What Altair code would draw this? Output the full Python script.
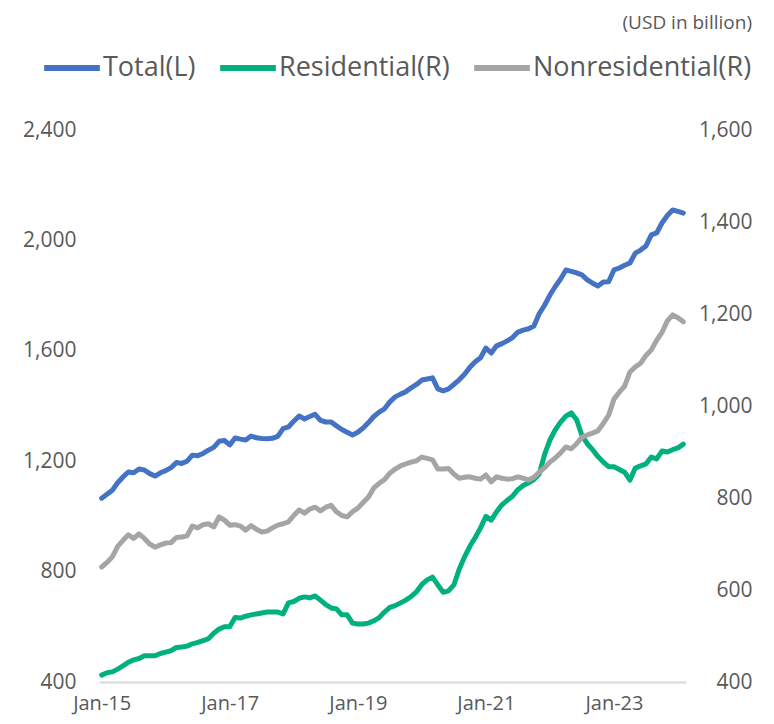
import altair as alt
import pandas as pd

FONT = "Open Sans"
TEXT_COLOR = "#595959"

# month index 0 = Jan-2015 ... 109 = Feb-2024
months = list(range(110))

total = [
    1066, 1080, 1095, 1122, 1143, 1161, 1158, 1172, 1168, 1155,
    1146, 1158, 1166, 1177, 1195, 1192, 1200, 1222, 1220, 1228,
    1240, 1250, 1272, 1275, 1259, 1284, 1280, 1277, 1291, 1285,
    1282, 1281, 1283, 1290, 1318, 1324, 1345, 1364, 1353, 1362,
    1370, 1348, 1342, 1342, 1328, 1315, 1305, 1295, 1305, 1320,
    1340, 1362, 1378, 1390, 1415, 1433, 1443, 1452, 1466, 1478,
    1494, 1498, 1502, 1462, 1455, 1462, 1478, 1495, 1515, 1540,
    1560, 1575, 1610, 1592, 1618, 1626, 1636, 1648, 1668, 1675,
    1680, 1690, 1735, 1765, 1802, 1833, 1860, 1893, 1888, 1882,
    1875, 1857, 1845, 1835, 1849, 1850, 1893, 1900, 1910, 1918,
    1954, 1965, 1980, 2020, 2027, 2063, 2090, 2110, 2105, 2099,
]

residential = [
    415, 420, 422, 428, 435, 443, 448, 451, 457, 457,
    457, 462, 465, 468, 475, 476, 478, 483, 486, 490,
    494, 506, 515, 520, 520, 540, 539, 543, 546, 548,
    550, 552, 552, 552, 548, 572, 575, 582, 585, 583,
    587, 578, 568, 561, 559, 546, 546, 528, 526, 526,
    528, 533, 540, 552, 562, 566, 572, 578, 586, 596,
    612, 622, 628, 611, 595, 598, 611, 645, 672, 695,
    714, 735, 760, 752, 770, 785, 795, 804, 818, 827,
    833, 840, 852, 895, 926, 948, 965, 978, 985, 970,
    936, 918, 905, 890, 878, 868, 868, 862, 856, 839,
    865, 870, 874, 889, 885, 902, 900, 905, 909, 917,
]

nonresidential = [
    650, 660, 672, 695, 708, 720, 712, 722, 712, 700,
    693, 698, 702, 703, 714, 715, 718, 739, 735, 742,
    744, 737, 759, 752, 741, 742, 739, 730, 740, 732,
    726, 728, 735, 741, 744, 748, 762, 774, 767, 776,
    780, 772, 780, 784, 770, 762, 759, 770, 778, 790,
    802, 822, 832, 840, 854, 863, 870, 874, 878, 881,
    889, 886, 883, 863, 863, 864, 852, 843, 845, 846,
    843, 841, 850, 835, 846, 843, 841, 842, 846, 843,
    839, 845, 856, 866, 878, 887, 898, 911, 907, 918,
    932, 937, 941, 946, 962, 980, 1015, 1030, 1043, 1074,
    1085, 1093, 1110, 1122, 1143, 1160, 1185, 1198, 1192, 1183,
]

series_names = ["Total(L)", "Residential(R)", "Nonresidential(R)"]
series_colors = ["#4472C4", "#00B07F", "#A5A5A5"]
x_tick_values = [0, 24, 48, 72, 96]
left_ticks = [400, 800, 1200, 1600, 2000, 2400]
right_ticks = [400, 600, 800, 1000, 1200, 1400, 1600]
unit_text = ["(USD in billion)"]

df_left = pd.DataFrame({"m": months, "value": total, "series": series_names[0]})
df_right = pd.concat([
    pd.DataFrame({"m": months, "value": residential, "series": series_names[1]}),
    pd.DataFrame({"m": months, "value": nonresidential, "series": series_names[2]}),
])

x_enc = alt.X(
    "m:Q",
    scale=alt.Scale(domain=[-0.5, 109.5], nice=False, zero=False),
    axis=alt.Axis(
        title=None, values=x_tick_values, grid=False, ticks=False,
        labelExpr="'Jan-' + format(15 + datum.value / 12, 'd')",
        domainColor="#D9D9D9", domainWidth=2, labelPadding=11,
        labelFontSize=20, labelColor=TEXT_COLOR, labelFont=FONT,
    ),
)

color_enc = alt.Color(
    "series:N",
    sort=series_names,
    scale=alt.Scale(domain=series_names, range=series_colors),
    legend=alt.Legend(
        title=None, orient="none", legendX=-58, legendY=-93,
        direction="horizontal", symbolType="stroke", symbolStrokeWidth=6,
        symbolSize=3100, labelFontSize=27, labelColor=TEXT_COLOR,
        labelFont=FONT, columnPadding=12, labelOffset=0, labelLimit=400,
        symbolOpacity=1,
    ),
)

line_props = dict(strokeWidth=5, strokeCap="round", strokeJoin="round")

left = alt.Chart(df_left).mark_line(**line_props).encode(
    x=x_enc,
    y=alt.Y(
        "value:Q",
        scale=alt.Scale(domain=[400, 2400], nice=False, zero=False),
        axis=alt.Axis(
            title=None, values=left_ticks, format=",.0f", grid=False, ticks=False,
            domain=False, labelPadding=23, labelFontSize=21,
            labelColor=TEXT_COLOR, labelFont=FONT,
        ),
    ),
    color=color_enc,
)

right = alt.Chart(df_right).mark_line(**line_props).encode(
    x=x_enc,
    y=alt.Y(
        "value:Q",
        scale=alt.Scale(domain=[400, 1600], nice=False, zero=False),
        axis=alt.Axis(
            title=None, orient="right", values=right_ticks, format=",.0f",
            grid=False, ticks=False, domain=False, labelAlign="right",
            labelPadding=66, labelFontSize=21, labelColor=TEXT_COLOR,
            labelFont=FONT,
        ),
    ),
    color=color_enc,
    order=alt.Order("series:N"),
)

unit = alt.Chart(pd.DataFrame({"t": unit_text})).mark_text(
    align="right", baseline="middle", fontSize=19, color=TEXT_COLOR, font=FONT
).encode(text="t:N", x=alt.value(653), y=alt.value(-107))

chart = (
    alt.layer(left, right, unit)
    .resolve_scale(y="independent")
    .properties(
        width=587, height=552,
        autosize=alt.AutoSizeParams(type="none"),
        padding={"left": 91, "top": 122, "right": 80, "bottom": 34},
    )
    .configure_view(stroke=None)
)

chart.save("out.html", embed_options={"renderer": "svg", "actions": False})
